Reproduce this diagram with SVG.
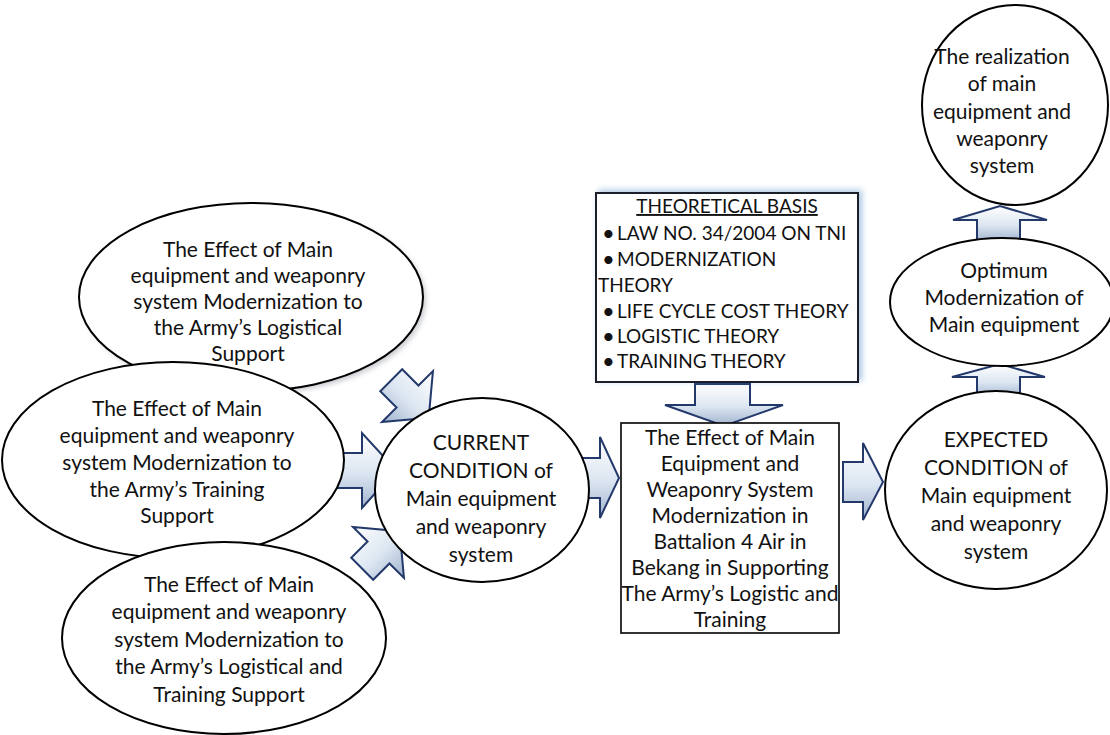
<svg xmlns="http://www.w3.org/2000/svg" width="1110" height="735" viewBox="0 0 1110 735">
<style>
  .node { fill: #ffffff; stroke: #000000; stroke-width: 2; }
  .box { fill: #ffffff; stroke: #000000; stroke-width: 1.6; }
  .t { font-family: Lato, "Open Sans", sans-serif; font-size: 21px; fill: #111111; text-anchor: middle; }
  .tb { font-family: Lato, "Open Sans", sans-serif; font-size: 19px; fill: #111111; }
  .bul { font-family: Lato, "Open Sans", sans-serif; font-size: 22px; fill: #111111; }
  .arrow { fill: url(#ag); stroke: #23396b; stroke-width: 2; stroke-linejoin: miter; }
</style>
<defs>
  <linearGradient id="ag" x1="0" y1="0" x2="0" y2="1">
    <stop offset="0" stop-color="#ffffff"/>
    <stop offset="0.55" stop-color="#dbe5f1"/>
    <stop offset="1" stop-color="#9fb2cd"/>
  </linearGradient>
  <filter id="glow" x="-10%" y="-10%" width="120%" height="120%">
    <feGaussianBlur stdDeviation="3"/>
  </filter>
  <filter id="shadow" x="-10%" y="-10%" width="125%" height="125%">
    <feGaussianBlur stdDeviation="2.5"/>
  </filter>
</defs>
<rect width="1110" height="735" fill="#ffffff"/>

<g id="connectors">
  <polygon class="arrow" transform="translate(407.5,396.5) rotate(45)" points="-23,-15.5 0,-15.5 0,-36 30,0 0,36 0,15.5 -23,15.5"/>
  <polygon class="arrow" points="335,453 362,453 362,433 396,470 362,508 362,488 335,488"/>
  <polygon class="arrow" transform="translate(378.5,552.5) rotate(-45)" points="-23,-15.5 0,-15.5 0,-36 30,0 0,36 0,15.5 -23,15.5"/>
  <polygon class="arrow" points="582,458 600,458 600,437 619,478 600,518 600,498 582,498"/>
  <polygon class="arrow" points="695,384 750,384 750,405 783,405 724,426 665,405 695,405"/>
  <polygon class="arrow" points="843,462 863,462 863,443 883,482 863,520 863,502 843,502"/>
  <polygon class="arrow" points="977,398 977,377 952,377 1000,364 1045,377 1020,377 1020,398"/>
  <polygon class="arrow" points="977,242 977,220 953,220 1000,206 1047,220 1020,220 1020,242"/>
</g>

<g id="node-logistical">
  <ellipse cx="254" cy="300" rx="172" ry="94" fill="#8a8f99" opacity="0.45" filter="url(#shadow)"/>
  <ellipse class="node" cx="251" cy="297" rx="172" ry="94"/>
  <text class="t" x="248" y="257">The Effect of Main</text>
  <text class="t" x="248" y="283">equipment and weaponry</text>
  <text class="t" x="248" y="309">system Modernization to</text>
  <text class="t" x="248" y="335">the Army’s Logistical</text>
  <text class="t" x="248" y="361">Support</text>
</g>

<g id="node-training">
  <ellipse class="node" cx="173" cy="460" rx="171" ry="98"/>
  <text class="t" x="177" y="416">The Effect of Main</text>
  <text class="t" x="177" y="443">equipment and weaponry</text>
  <text class="t" x="177" y="470">system Modernization to</text>
  <text class="t" x="177" y="497">the Army’s Training</text>
  <text class="t" x="177" y="523">Support</text>
</g>

<g id="node-logistical-training">
  <ellipse class="node" cx="224" cy="638" rx="162" ry="96"/>
  <text class="t" x="229" y="592">The Effect of Main</text>
  <text class="t" x="229" y="619">equipment and weaponry</text>
  <text class="t" x="229" y="647">system Modernization to</text>
  <text class="t" x="229" y="674">the Army’s Logistical and</text>
  <text class="t" x="229" y="702">Training Support</text>
</g>

<g id="node-current">
  <ellipse class="node" cx="482" cy="490" rx="107" ry="92"/>
  <text class="t" x="481" y="450">CURRENT</text>
  <text class="t" x="481" y="478">CONDITION of</text>
  <text class="t" x="481" y="506">Main equipment</text>
  <text class="t" x="481" y="534">and weaponry</text>
  <text class="t" x="481" y="562">system</text>
</g>

<g id="node-theory">
  <rect x="598" y="190" width="264" height="191" fill="#5b8fc9" opacity="0.5" filter="url(#glow)"/>
  <rect x="596" y="193" width="262" height="189" fill="#ffffff" stroke="#1b1f2a" stroke-width="2"/>
  <text class="tb" x="727" y="213" text-anchor="middle" text-decoration="underline">THEORETICAL BASIS</text>
  <text class="bul" x="602" y="241">•</text><text class="tb" x="617" y="240">LAW NO. 34/2004 ON TNI</text>
  <text class="bul" x="602" y="267">•</text><text class="tb" x="617" y="266">MODERNIZATION</text>
  <text class="tb" x="598" y="292">THEORY</text>
  <text class="bul" x="602" y="319">•</text><text class="tb" x="617" y="318">LIFE CYCLE COST THEORY</text>
  <text class="bul" x="602" y="344">•</text><text class="tb" x="617" y="343">LOGISTIC THEORY</text>
  <text class="bul" x="602" y="369">•</text><text class="tb" x="617" y="368">TRAINING THEORY</text>
</g>

<g id="node-effect">
  <rect class="box" x="621" y="423" width="218" height="210"/>
  <text class="t" x="730" y="445">The Effect of Main</text>
  <text class="t" x="730" y="471">Equipment and</text>
  <text class="t" x="730" y="497">Weaponry System</text>
  <text class="t" x="730" y="523">Modernization in</text>
  <text class="t" x="730" y="549">Battalion 4 Air in</text>
  <text class="t" x="730" y="575">Bekang in Supporting</text>
  <text class="t" x="730" y="601">The Army’s Logistic and</text>
  <text class="t" x="730" y="627">Training</text>
</g>

<g id="node-expected">
  <ellipse class="node" cx="996" cy="490" rx="111" ry="99"/>
  <text class="t" x="996" y="447">EXPECTED</text>
  <text class="t" x="996" y="475">CONDITION of</text>
  <text class="t" x="996" y="503">Main equipment</text>
  <text class="t" x="996" y="531">and weaponry</text>
  <text class="t" x="996" y="559">system</text>
</g>

<g id="node-optimum">
  <ellipse class="node" cx="1002" cy="302" rx="112" ry="64"/>
  <text class="t" x="1004" y="278">Optimum</text>
  <text class="t" x="1004" y="305">Modernization of</text>
  <text class="t" x="1004" y="332">Main equipment</text>
</g>

<g id="node-realization">
  <ellipse class="node" cx="1015" cy="105" rx="93" ry="100"/>
  <text class="t" x="1002" y="64">The realization</text>
  <text class="t" x="1002" y="91">of main</text>
  <text class="t" x="1002" y="119">equipment and</text>
  <text class="t" x="1002" y="146">weaponry</text>
  <text class="t" x="1002" y="173">system</text>
</g>
</svg>
